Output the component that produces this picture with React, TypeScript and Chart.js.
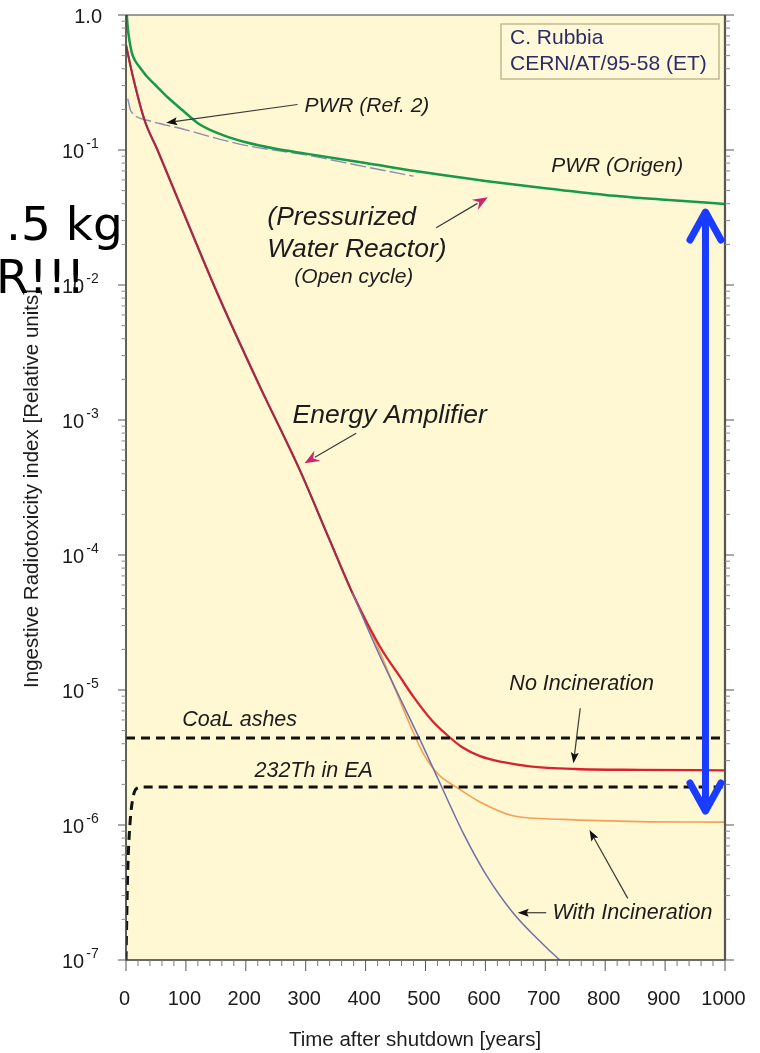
import React, { useEffect, useRef } from 'react';
import { Chart, registerables } from 'chart.js';

Chart.register(...registerables);

// ---------------- data ----------------
const pwrOrigenYears = [0, 2, 4, 7, 10, 15, 23, 35, 50, 70, 95, 120, 150, 175, 200, 250, 300, 400, 500, 600, 700, 800, 900, 1000];
const pwrOrigenValues = [1.3, 0.9, 0.73, 0.6, 0.52, 0.46, 0.41, 0.35, 0.3, 0.245, 0.196, 0.158, 0.135, 0.123, 0.114, 0.102, 0.094, 0.08, 0.068, 0.059, 0.052, 0.0465, 0.0428, 0.0398];

const pwrRef2Years = [3, 7, 11, 17, 40, 67, 100, 157, 210, 300, 400, 480];
const pwrRef2Values = [0.24, 0.2, 0.187, 0.177, 0.164, 0.153, 0.141, 0.12, 0.106, 0.092, 0.075, 0.064];

const noIncYears = [0, 10.9, 30.9, 52.6, 89.3, 156, 223, 290, 340, 378, 424, 457, 480, 510, 535, 560, 591, 630, 674, 750, 858, 1000];
const noIncValues = [0.6, 0.36, 0.1668, 0.1, 0.0405, 8.0e-3, 1.79e-3, 4.27e-4, 1.29e-4, 5.23e-5, 2.09e-5, 1.26e-5, 8.9e-6, 6.0e-6, 4.68e-6, 3.8e-6, 3.24e-6, 2.92e-6, 2.72e-6, 2.6e-6, 2.56e-6, 2.54e-6];

const withIncYears = [0, 10.9, 30.9, 52.6, 89.3, 156, 223, 290, 340, 378, 424, 450, 480, 495, 510, 525, 552, 591, 646, 730, 858, 1000];
const withIncValues = [0.6, 0.36, 0.1668, 0.1, 0.0405, 8.0e-3, 1.79e-3, 4.27e-4, 1.29e-4, 5.23e-5, 1.9e-5, 1.0e-5, 4.8e-6, 3.47e-6, 2.72e-6, 2.29e-6, 1.9e-6, 1.48e-6, 1.17e-6, 1.1e-6, 1.06e-6, 1.05e-6];

const fullIncYears = [0, 10.9, 30.9, 52.6, 89.3, 156, 223, 290, 340, 378, 424, 450, 491, 521, 563, 600, 646, 700, 724, 760];
const fullIncValues = [0.6, 0.36, 0.1668, 0.1, 0.0405, 8.0e-3, 1.79e-3, 4.27e-4, 1.29e-4, 5.23e-5, 1.78e-5, 1.02e-5, 4.27e-6, 2.19e-6, 8.7e-7, 4.37e-7, 2.24e-7, 1.26e-7, 1.0e-7, 7.0e-8];
const eaCommonLastIndex = 9; // last shared point (t = 378)

const coalYears = [0, 1000];
const coalValues = [4.41e-6, 4.41e-6];

const thoriumYears = [0, 2.8, 6.7, 12, 18, 30, 1000];
const thoriumValues = [1.0e-7, 4.4e-7, 1.03e-6, 1.62e-6, 1.87e-6, 1.91e-6, 1.91e-6];

// ticks
const xTickValues = [0, 100, 200, 300, 400, 500, 600, 700, 800, 900, 1000];
const xMinorStep = 20;
const yDecadeExponents = [0, -1, -2, -3, -4, -5, -6, -7];
const yMinorMultipliers = [2, 3, 4, 5, 6, 7, 8, 9];

// annotation texts (anchored in data coordinates: year, value)
const labelTexts = ['PWR (Ref. 2)', 'PWR (Origen)', '(Pressurized', 'Water Reactor)', '(Open cycle)', 'Energy Amplifier', 'No Incineration', 'With Incineration', 'CoaL ashes', '232Th in EA'];
const labelYears = [298, 710, 236, 236, 281, 278, 640, 712, 94, 214.5];
const labelValues = [0.191, 0.0687, 0.0278, 0.0161, 0.01035, 9.5e-4, 1.0e-5, 2.01e-7, 5.41e-6, 2.27e-6];
const labelSizes = [21, 21, 26.5, 26.5, 21, 26.5, 21.5, 21.5, 21.5, 21.5];

// annotation arrows: from (year, value) to (year, value)
const arrowFromYears = [286.3, 517.9, 384.3, 758.3, 837.7, 701.5];
const arrowFromValues = [0.2173, 0.02657, 7.97e-4, 7.32e-6, 2.86e-7, 2.24e-7];
const arrowToYears = [67.1, 604, 298, 747, 773.8, 654];
const arrowToValues = [0.1592, 0.04464, 4.78e-4, 2.864e-6, 9.18e-7, 2.24e-7];
const arrowHeadKinds = ['black', 'magenta', 'magenta', 'black', 'black', 'black'];

// blue double arrow (PWR vs EA gap)
const gapArrowYear = 967.4;
const gapArrowTop = 0.0359;
const gapArrowBottom = 1.227e-6;

// ---------------- styling ----------------
const FONT = "'Liberation Sans', Helvetica, Arial, sans-serif";
const BG = '#fff8d3';
const GREEN = '#149a48';
const RED = '#d8232e';
const ORANGE = '#f2a157';
const BLUE = '#6f70aa';
const MAROON = '#8a3356';
const GRAY = '#8c8cac';
const TEXT = '#1c1c1c';

const zip = (xs: number[], ys: number[]) => xs.map((x, i) => ({ x, y: ys[i] }));

function arrowHead(ctx: CanvasRenderingContext2D, x0: number, y0: number, x1: number, y1: number, len: number, half: number, notch: number, color: string) {
  const a = Math.atan2(y1 - y0, x1 - x0);
  ctx.save();
  ctx.translate(x1, y1);
  ctx.rotate(a);
  ctx.beginPath();
  ctx.moveTo(0, 0);
  ctx.lineTo(-len, -half);
  ctx.lineTo(-len + notch, 0);
  ctx.lineTo(-len, half);
  ctx.closePath();
  ctx.fillStyle = color;
  ctx.fill();
  ctx.restore();
}

const decorPlugin = {
  id: 'decor',
  beforeDatasetsDraw(chart: any) {
    const { ctx, chartArea: ca } = chart;
    ctx.save();
    ctx.fillStyle = BG;
    ctx.fillRect(ca.left, ca.top, ca.right - ca.left, ca.bottom - ca.top);
    ctx.restore();
  },
  afterDatasetsDraw(chart: any) {
    const { ctx, chartArea: ca, scales } = chart;
    const xs = scales.x;
    const ys = scales.y;
    ctx.save();

    // frame
    ctx.strokeStyle = '#3a3a3a';
    ctx.lineWidth = 1.2;
    ctx.beginPath();
    ctx.moveTo(ca.left, ca.top);
    ctx.lineTo(ca.right, ca.top);
    ctx.stroke();
    ctx.lineWidth = 1.6;
    ctx.beginPath();
    ctx.moveTo(ca.left, ca.top);
    ctx.lineTo(ca.left, ca.bottom);
    ctx.lineTo(ca.right, ca.bottom);
    ctx.stroke();
    ctx.strokeStyle = '#555';
    ctx.lineWidth = 2.2;
    ctx.beginPath();
    ctx.moveTo(ca.right, ca.top);
    ctx.lineTo(ca.right, ca.bottom);
    ctx.stroke();

    // x ticks
    ctx.lineWidth = 1;
    ctx.strokeStyle = '#777';
    for (let v = 0; v <= 1000; v += xMinorStep) {
      if (v % 100 === 0) continue;
      const px = xs.getPixelForValue(v);
      ctx.beginPath();
      ctx.moveTo(px, ca.bottom);
      ctx.lineTo(px, ca.bottom + 6);
      ctx.stroke();
    }
    ctx.strokeStyle = '#555';
    xTickValues.forEach((v) => {
      const px = xs.getPixelForValue(v);
      ctx.beginPath();
      ctx.moveTo(px, ca.bottom);
      ctx.lineTo(px, ca.bottom + 11);
      ctx.stroke();
    });

    // y ticks (left & right)
    yDecadeExponents.forEach((e) => {
      if (e === 0) return;
      yMinorMultipliers.forEach((m) => {
        const py = ys.getPixelForValue(m * Math.pow(10, e));
        ctx.strokeStyle = '#888';
        ctx.beginPath();
        ctx.moveTo(ca.left - 4.5, py);
        ctx.lineTo(ca.left, py);
        ctx.moveTo(ca.right, py);
        ctx.lineTo(ca.right + 5, py);
        ctx.stroke();
      });
    });
    yDecadeExponents.forEach((e) => {
      const py = ys.getPixelForValue(Math.pow(10, e));
      ctx.strokeStyle = '#555';
      ctx.beginPath();
      ctx.moveTo(ca.left - 8, py);
      ctx.lineTo(ca.left, py);
      ctx.moveTo(ca.right, py);
      ctx.lineTo(ca.right + 9, py);
      ctx.stroke();
    });

    // y tick labels
    ctx.fillStyle = TEXT;
    ctx.textBaseline = 'alphabetic';
    yDecadeExponents.forEach((e) => {
      const py = ys.getPixelForValue(Math.pow(10, e));
      if (e === 0) {
        ctx.font = `20px ${FONT}`;
        ctx.textAlign = 'right';
        ctx.fillText('1.0', ca.left - 24, py + 7.5);
        return;
      }
      ctx.font = `20px ${FONT}`;
      ctx.textAlign = 'left';
      const bx = ca.left - 64;
      ctx.fillText('10', bx, py + 7.5);
      const w = ctx.measureText('10').width;
      ctx.font = `14px ${FONT}`;
      ctx.fillText(`-${Math.abs(e)}`, bx + w + 2, py - 2);
    });

    // x tick labels
    ctx.font = `20px ${FONT}`;
    ctx.textAlign = 'center';
    xTickValues.forEach((v) => {
      const px = xs.getPixelForValue(v);
      ctx.fillText(String(v), px - 1.5, ca.bottom + 45);
    });

    // axis titles
    ctx.font = `20.5px ${FONT}`;
    ctx.fillText('Time after shutdown [years]', ca.left + 289, ca.bottom + 86);
    ctx.save();
    ctx.translate(38, (ca.top + ca.bottom) / 2 + 1);
    ctx.rotate(-Math.PI / 2);
    ctx.fillText('Ingestive Radiotoxicity index [Relative units]', 0, 0);
    ctx.restore();

    // credit box
    const bx0 = ca.right - 224;
    const by0 = ca.top + 9;
    ctx.fillStyle = '#fff9d9';
    ctx.fillRect(bx0, by0, 218, 55);
    ctx.strokeStyle = '#c4b88e';
    ctx.lineWidth = 1.5;
    ctx.strokeRect(bx0, by0, 218, 55);
    ctx.fillStyle = '#2c2c6a';
    ctx.textAlign = 'left';
    ctx.font = `21px ${FONT}`;
    ctx.fillText('C. Rubbia', bx0 + 9, by0 + 20);
    ctx.fillText('CERN/AT/95-58 (ET)', bx0 + 9, by0 + 46);

    // annotation texts
    ctx.fillStyle = TEXT;
    ctx.textAlign = 'left';
    labelTexts.forEach((t, i) => {
      ctx.font = `italic ${labelSizes[i]}px ${FONT}`;
      ctx.fillText(t, xs.getPixelForValue(labelYears[i]), ys.getPixelForValue(labelValues[i]));
    });

    // annotation arrows
    arrowFromYears.forEach((_, i) => {
      const x0 = xs.getPixelForValue(arrowFromYears[i]);
      const y0 = ys.getPixelForValue(arrowFromValues[i]);
      const x1 = xs.getPixelForValue(arrowToYears[i]);
      const y1 = ys.getPixelForValue(arrowToValues[i]);
      const magenta = arrowHeadKinds[i] === 'magenta';
      const len = magenta ? 15 : 11;
      const d = Math.hypot(x1 - x0, y1 - y0);
      const ex = x1 - ((x1 - x0) / d) * (len - 3);
      const ey = y1 - ((y1 - y0) / d) * (len - 3);
      ctx.strokeStyle = '#3a3a3a';
      ctx.lineWidth = 1.2;
      ctx.beginPath();
      ctx.moveTo(x0, y0);
      ctx.lineTo(ex, ey);
      ctx.stroke();
      if (magenta) arrowHead(ctx, x0, y0, x1, y1, len, 6, 5, '#c8286e');
      else arrowHead(ctx, x0, y0, x1, y1, len, 4, 2, '#111');
    });

    // blue double arrow
    const gx = xs.getPixelForValue(gapArrowYear);
    const gt = ys.getPixelForValue(gapArrowTop);
    const gb = ys.getPixelForValue(gapArrowBottom);
    ctx.strokeStyle = '#1a3cff';
    ctx.lineWidth = 7;
    ctx.lineCap = 'round';
    ctx.lineJoin = 'round';
    ctx.beginPath();
    ctx.moveTo(gx, gt + 3);
    ctx.lineTo(gx, gb - 3);
    ctx.stroke();
    ctx.beginPath();
    ctx.moveTo(gx - 15.5, gt + 30);
    ctx.lineTo(gx, gt + 2);
    ctx.lineTo(gx + 15.5, gt + 30);
    ctx.stroke();
    ctx.beginPath();
    ctx.moveTo(gx - 15.5, gb - 30);
    ctx.lineTo(gx, gb - 2);
    ctx.lineTo(gx + 15.5, gb - 30);
    ctx.stroke();

    ctx.restore();
  },
};

export default function App() {
  const canvasRef = useRef<HTMLCanvasElement | null>(null);

  useEffect(() => {
    if (!canvasRef.current) return;
    const chart = new Chart(canvasRef.current, {
      type: 'line',
      data: {
        datasets: [
          { label: 'Coal ashes', data: zip(coalYears, coalValues), borderColor: '#111', borderWidth: 3, borderDash: [9, 6], pointRadius: 0, fill: false },
          { label: '232Th in EA', data: zip(thoriumYears, thoriumValues), borderColor: '#111', borderWidth: 3, borderDash: [9, 6], pointRadius: 0, fill: false, cubicInterpolationMode: 'monotone' },
          {
            label: 'With Incineration (full)', data: zip(fullIncYears, fullIncValues), borderColor: BLUE, borderWidth: 1.5, pointRadius: 0, fill: false, cubicInterpolationMode: 'monotone',
            segment: { borderColor: (c: any) => (c.p1DataIndex <= eaCommonLastIndex ? MAROON : BLUE) },
          },
          { label: 'No Incineration', data: zip(noIncYears, noIncValues), borderColor: RED, borderWidth: 2.3, pointRadius: 0, fill: false, cubicInterpolationMode: 'monotone' },
          { label: 'With Incineration', data: zip(withIncYears, withIncValues), borderColor: ORANGE, borderWidth: 1.6, pointRadius: 0, fill: false, cubicInterpolationMode: 'monotone' },
          { label: 'PWR (Origen)', data: zip(pwrOrigenYears, pwrOrigenValues), borderColor: GREEN, borderWidth: 2.5, pointRadius: 0, fill: false, cubicInterpolationMode: 'monotone' },
          { label: 'PWR (Ref. 2)', data: zip(pwrRef2Years, pwrRef2Values), borderColor: GRAY, borderWidth: 1.4, borderDash: [16, 4], pointRadius: 0, fill: false, cubicInterpolationMode: 'monotone' },
        ],
      },
      options: {
        responsive: false,
        animation: false,
        devicePixelRatio: 1,
        layout: { padding: { left: 126, right: 35, top: 15, bottom: 93 } },
        plugins: { legend: { display: false }, tooltip: { enabled: false } },
        events: [],
        scales: {
          x: { type: 'linear', min: 0, max: 1000, display: false },
          y: { type: 'logarithmic', min: 1e-7, max: 1, display: false },
        },
      },
      plugins: [decorPlugin],
    } as any);
    return () => chart.destroy();
  }, []);

  const overlay: React.CSSProperties = {
    position: 'absolute',
    fontFamily: "'DejaVu Sans', sans-serif",
    fontSize: 47,
    lineHeight: '47px',
    color: '#000',
    whiteSpace: 'pre',
  };

  return (
    <div style={{ position: 'absolute', left: 0, top: 0, width: 760, height: 1053, background: '#fff' }}>
      <canvas ref={canvasRef} width={760} height={1053} style={{ display: 'block' }} />
      <div style={{ ...overlay, left: 6, top: 200 }}>.5 kg</div>
      <div style={{ ...overlay, left: -4, top: 253 }}>R!!!</div>
    </div>
  );
}
